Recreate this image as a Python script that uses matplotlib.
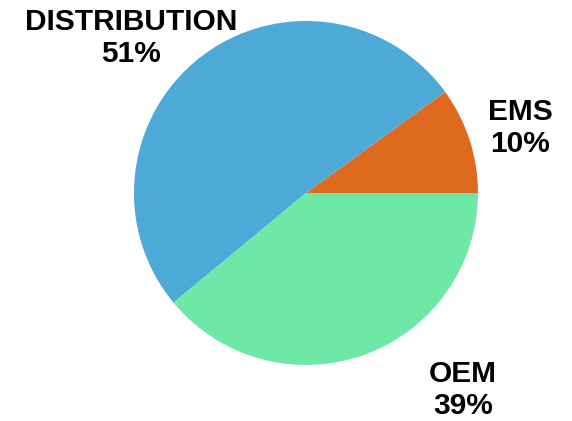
import matplotlib.pyplot as plt

labels = ["EMS", "DISTRIBUTION", "OEM"]
shares = [10, 51, 39]
colors = ["#DE6A1F", "#4DA9D6", "#6DE8A6"]
# label spots in pie units (radius = 1)
label_pos = [(1.244, 0.378), (-1.017, 0.901), (0.913, -1.145)]

plt.rcParams['font.family'] = ['Liberation Sans', 'DejaVu Sans']

fig = plt.figure(figsize=(5.72, 4.21), dpi=100)
ax = fig.add_axes([0, 0, 1, 1])
ax.pie(shares, colors=colors, startangle=0, counterclock=True, radius=1,
       wedgeprops=dict(linewidth=0))
for lab, val, (x, y) in zip(labels, shares, label_pos):
    ax.text(x, y, "%s\n%d%%" % (lab, val), ha='center', va='center',
            multialignment='center', fontsize=21.5, fontweight='bold',
            linespacing=1.2)
ax.set_xlim(-306 / 172, (572 - 306) / 172)
ax.set_ylim(-(421 - 193) / 172, 193 / 172)
ax.set_aspect('auto')
ax.axis('off')
plt.savefig('out.png')
